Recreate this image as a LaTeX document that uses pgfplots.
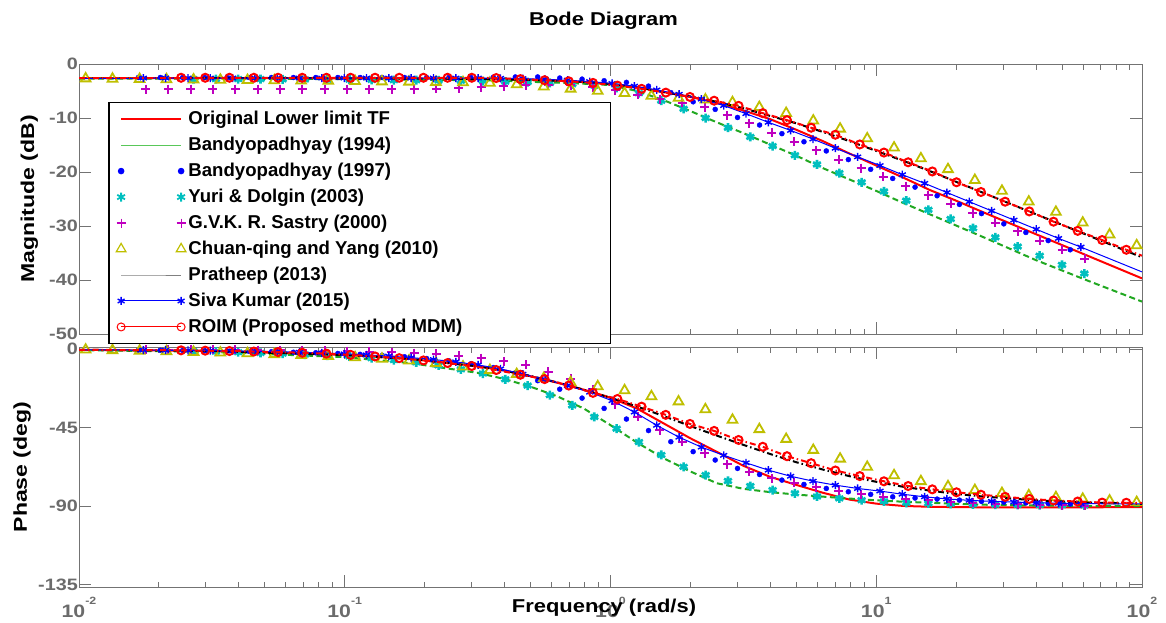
\documentclass[border=0pt]{standalone}
\usepackage{fontspec}
\setmainfont{Liberation Sans}
\newfontfamily\wideL[FakeStretch=1.24]{Liberation Sans}
\newfontfamily\wideT[FakeStretch=1.18]{Liberation Sans}
\newfontfamily\wideK[FakeStretch=1.2]{Liberation Sans}
\usepackage{pgfplots}
\usepackage{pgfplotstable}
\pgfplotsset{compat=1.18}

\definecolor{mgreen}{rgb}{0.13,0.66,0.13}
\definecolor{lgreen}{rgb}{0.35,0.78,0.35}
\definecolor{mcyan}{rgb}{0,0.75,0.75}
\definecolor{mmag}{rgb}{0.75,0,0.75}
\definecolor{myel}{rgb}{0.75,0.75,0}
\definecolor{axgray}{rgb}{0.45,0.45,0.45}
\definecolor{tickgray}{rgb}{0.42,0.42,0.42}
\newcommand{\lblfont}{\fontsize{18.6}{20}\selectfont\bfseries}

% lw = log10(frequency in rad/s), mag in dB, ph in deg
\pgfplotstableread{
lw mag ph
-2.0 -2.6 -0.3
-1.5 -2.6 -1.0
-1.0 -2.65 -3.2
-0.75 -2.7 -5.6
-0.5 -2.8 -9.7
-0.4 -2.85 -12.2
-0.3 -2.95 -15.5
-0.2 -3.1 -19.2
-0.1 -3.35 -23.2
0.0 -3.7 -27.8
0.1 -4.3 -34.0
0.2 -5.2 -42.5
0.3 -6.1 -51.0
0.4 -7.2 -58.8
0.5 -8.6 -66.8
0.6 -10.2 -73.1
0.7 -12.2 -77.8
0.8 -14.3 -82.3
0.9 -16.6 -86.2
1.0 -18.8 -88.5
1.1 -21.0 -89.8
1.2 -23.3 -90.3
1.3 -25.3 -90.5
1.4 -27.4 -90.6
1.6 -31.5 -90.6
1.8 -35.6 -90.6
2.0 -39.7 -90.5
}\tOrig

\pgfplotstableread{
lw mag ph
-2.0 -2.7 -0.5
-1.5 -2.7 -1.5
-1.0 -2.8 -4.5
-0.75 -2.9 -8.0
-0.5 -3.0 -13.5
-0.4 -3.1 -17.0
-0.3 -3.3 -21.5
-0.2 -3.45 -27.0
-0.1 -3.65 -34.0
0.0 -3.9 -43.5
0.1 -5.0 -53.5
0.2 -6.7 -62.5
0.3 -8.7 -70.0
0.4 -10.8 -76.8
0.5 -12.8 -80.0
0.6 -14.9 -81.9
0.7 -17.0 -83.3
0.8 -19.3 -84.5
0.9 -21.4 -85.6
1.0 -23.5 -86.6
1.1 -25.7 -87.4
1.2 -27.8 -88.0
1.3 -29.9 -88.6
1.4 -32.0 -89.1
1.6 -36.3 -89.6
1.8 -40.2 -89.9
2.0 -44.0 -90.0
}\tGreen

\pgfplotstableread{
lw mag ph
-2.0 -2.6 -0.3
-1.5 -2.6 -1.0
-1.0 -2.65 -3.3
-0.75 -2.7 -5.6
-0.5 -2.75 -9.8
-0.4 -2.85 -12.2
-0.3 -2.95 -15.3
-0.2 -3.1 -19.0
-0.1 -3.3 -23.2
0.0 -3.7 -27.8
0.1 -4.3 -32.8
0.2 -5.2 -38.3
0.3 -6.0 -44.0
0.4 -7.0 -49.5
0.5 -8.2 -54.8
0.6 -9.6 -60.0
0.7 -11.0 -64.8
0.8 -12.6 -69.0
0.9 -14.3 -72.8
1.0 -16.1 -76.0
1.1 -17.9 -78.8
1.2 -19.8 -81.0
1.3 -21.8 -82.9
1.4 -23.8 -84.4
1.6 -27.8 -86.6
1.8 -31.8 -87.9
2.0 -35.8 -88.6
}\tBlack

\pgfplotstableread{
lw mag ph
-1.616 -2.55 -0.6
-1.525 -2.55 -0.8
-1.434 -2.55 -1.0
-1.342 -2.55 -1.3
-1.251 -2.55 -1.6
-1.160 -2.55 -2.0
-1.069 -2.55 -2.5
-0.978 -2.55 -3.2
-0.886 -2.55 -4.1
-0.795 -2.55 -5.1
-0.704 -2.55 -6.4
-0.613 -2.55 -7.9
-0.522 -2.55 -9.6
-0.430 -2.6 -11.9
-0.339 -2.8 -14.6
-0.248 -3.0 -17.1
-0.157 -3.2 -20.8
-0.066 -3.5 -25.0
0.026 -4.0 -28.5
0.117 -4.6 -32.9
0.208 -5.3 -37.6
0.299 -6.1 -42.8
0.390 -6.8 -46.8
0.482 -7.75 -52.0
0.573 -9.1 -55.9
0.664 -10.4 -61.3
0.755 -11.8 -65.3
0.846 -13.1 -69.5
0.938 -14.9 -72.7
1.029 -16.4 -75.7
1.120 -18.2 -78.4
1.211 -19.9 -80.3
1.302 -21.9 -82.0
1.394 -23.7 -83.4
1.485 -25.5 -84.6
1.576 -27.3 -85.8
1.667 -29.2 -86.7
1.758 -30.9 -87.3
1.850 -32.6 -87.9
1.941 -34.4 -88.0
}\tRoim

\pgfplotstableread{
lw mag ph
-1.758 -2.6 -0.45
-1.674 -2.6 -0.55
-1.590 -2.6 -0.65
-1.506 -2.6 -0.8
-1.422 -2.6 -0.95
-1.338 -2.6 -1.15
-1.254 -2.6 -1.4
-1.170 -2.6 -1.7
-1.086 -2.6 -2.1
-1.002 -2.6 -2.6
-0.918 -2.6 -3.2
-0.834 -2.6 -3.9
-0.750 -2.6 -4.8
-0.666 -2.6 -5.9
-0.582 -2.6 -7.2
-0.498 -2.6 -9.0
-0.414 -2.65 -11.2
-0.330 -2.7 -14.3
-0.246 -2.85 -17.2
-0.162 -3.0 -20.8
-0.078 -3.25 -24.6
0.006 -3.6 -29.5
0.090 -4.1 -36.0
0.174 -4.8 -43.6
0.258 -5.6 -50.4
0.342 -6.5 -56.1
0.426 -7.7 -60.8
0.510 -9.2 -65.1
0.594 -10.8 -69.3
0.678 -12.3 -72.8
0.762 -13.9 -75.6
0.846 -15.6 -77.9
0.930 -17.2 -79.8
1.014 -18.8 -81.3
1.098 -20.5 -83.1
1.182 -22.1 -84.6
1.266 -23.8 -85.8
1.350 -25.5 -86.6
1.434 -27.2 -87.2
1.518 -28.9 -87.6
1.602 -30.6 -88.0
1.686 -32.3 -88.3
1.770 -33.9 -88.5
}\tSiva

\pgfplotstableread{
lw mag ph
-1.777 -2.5 -0.5
-1.694 -2.5 -0.6
-1.610 -2.5 -0.7
-1.527 -2.5 -0.85
-1.443 -2.5 -1.0
-1.360 -2.5 -1.2
-1.276 -2.5 -1.4
-1.193 -2.5 -1.7
-1.109 -2.5 -2.0
-1.026 -2.5 -2.4
-0.942 -2.5 -2.9
-0.859 -2.5 -3.5
-0.775 -2.5 -4.3
-0.692 -2.5 -5.3
-0.608 -2.5 -6.6
-0.525 -2.5 -8.3
-0.441 -2.45 -10.5
-0.358 -2.4 -13.5
-0.274 -2.4 -18.0
-0.191 -2.6 -22.9
-0.107 -2.8 -28.0
-0.024 -3.1 -33.9
0.060 -3.4 -40.0
0.143 -4.1 -46.6
0.227 -5.3 -53.0
0.311 -7.0 -58.7
0.394 -8.4 -63.5
0.478 -9.9 -68.3
0.561 -11.3 -71.8
0.645 -12.9 -75.0
0.728 -14.4 -77.5
0.812 -16.1 -79.8
0.895 -17.7 -81.7
0.979 -19.5 -83.2
1.062 -21.2 -84.6
1.146 -22.8 -85.3
1.229 -24.4 -85.9
1.313 -26.0 -86.5
1.396 -27.7 -87.2
1.480 -29.6 -87.7
1.563 -31.2 -88.1
1.647 -32.7 -88.4
1.730 -34.4 -88.7
}\tDots

\pgfplotstableread{
lw mag ph
-1.569 -2.8 -1.2
-1.485 -2.8 -1.4
-1.401 -2.8 -1.7
-1.317 -2.8 -2.1
-1.234 -2.85 -2.5
-1.150 -2.85 -3.0
-1.066 -2.9 -3.6
-0.982 -2.9 -4.1
-0.899 -2.95 -5.1
-0.815 -3.0 -6.2
-0.731 -3.0 -7.5
-0.647 -3.05 -9.2
-0.563 -3.1 -11.5
-0.480 -3.15 -13.9
-0.396 -3.25 -17.2
-0.312 -3.35 -20.8
-0.228 -3.5 -26.3
-0.144 -3.75 -32.2
-0.061 -4.0 -38.8
0.023 -4.4 -45.5
0.107 -5.4 -53.2
0.191 -6.8 -60.6
0.275 -8.3 -67.4
0.358 -10.0 -72.1
0.442 -11.8 -75.5
0.526 -13.5 -78.4
0.610 -15.2 -80.7
0.694 -16.9 -82.6
0.777 -18.6 -84.4
0.861 -20.2 -85.5
0.945 -21.9 -86.5
1.029 -23.6 -87.2
1.113 -25.3 -88.0
1.196 -27.0 -88.4
1.280 -28.7 -88.6
1.364 -30.4 -88.9
1.448 -32.1 -89.1
1.532 -33.8 -89.2
1.615 -35.5 -89.3
1.699 -37.2 -89.4
1.783 -38.8 -89.5
}\tYuri

\pgfplotstableread{
lw mag ph
-1.748 -4.65 -0.2
-1.664 -4.65 -0.25
-1.580 -4.65 -0.3
-1.496 -4.65 -0.35
-1.412 -4.65 -0.4
-1.328 -4.65 -0.5
-1.243 -4.65 -0.6
-1.159 -4.65 -0.7
-1.075 -4.65 -0.8
-0.991 -4.65 -1.0
-0.907 -4.65 -1.3
-0.823 -4.65 -1.7
-0.739 -4.65 -2.2
-0.655 -4.6 -2.6
-0.571 -4.5 -3.7
-0.487 -4.3 -5.1
-0.402 -4.1 -7.0
-0.318 -3.9 -8.9
-0.234 -3.8 -12.8
-0.150 -3.9 -16.8
-0.066 -4.3 -23.0
0.018 -4.9 -31.5
0.102 -5.7 -38.8
0.186 -6.5 -46.3
0.270 -7.2 -53.1
0.355 -8.0 -59.7
0.439 -9.5 -66.0
0.523 -11.0 -70.2
0.607 -12.7 -74.0
0.691 -14.4 -76.6
0.775 -16.0 -79.2
0.859 -17.7 -81.1
0.943 -19.3 -83.2
1.027 -20.9 -84.6
1.111 -22.6 -85.7
1.195 -24.3 -86.5
1.280 -25.9 -87.5
1.364 -27.6 -88.0
1.448 -29.4 -88.5
1.532 -31.0 -88.9
1.616 -32.7 -89.2
1.700 -34.4 -89.4
1.784 -36.1 -89.6
}\tSastry

\pgfplotstableread{
lw mag ph
-1.975 -2.7 -0.3
-1.874 -2.75 -0.6
-1.772 -2.8 -0.9
-1.671 -2.85 -1.2
-1.569 -2.9 -1.6
-1.468 -2.95 -2.0
-1.366 -3.0 -2.4
-1.265 -3.05 -2.9
-1.164 -3.1 -3.4
-1.062 -3.15 -4.0
-0.961 -3.2 -4.7
-0.860 -3.25 -5.5
-0.758 -3.3 -6.5
-0.657 -3.35 -8.0
-0.555 -3.4 -10.0
-0.454 -3.5 -12.0
-0.353 -3.8 -14.3
-0.251 -4.2 -16.6
-0.150 -4.6 -19.0
-0.048 -5.0 -21.3
0.053 -5.4 -23.6
0.154 -5.9 -27.0
0.256 -6.3 -30.0
0.357 -6.6 -34.5
0.459 -7.1 -40.5
0.560 -8.0 -45.9
0.661 -9.1 -51.5
0.763 -10.5 -57.8
0.864 -12.0 -62.8
0.966 -13.8 -67.5
1.067 -15.5 -72.3
1.168 -17.5 -75.7
1.270 -19.5 -78.6
1.371 -21.5 -80.8
1.473 -23.5 -82.5
1.574 -25.5 -83.8
1.676 -27.4 -84.9
1.777 -29.4 -85.8
1.878 -31.6 -86.8
1.980 -33.6 -87.7
}\tChuan

\pgfplotsset{
  endmarks/.style={legend image code/.code={\draw[mark repeat=2,mark phase=1,##1] plot coordinates {(0pt,0pt) (30pt,0pt) (60pt,0pt)};}},
  bode/.style={
    scale only axis, width=1063pt,
    xmin=-2, xmax=2,
    axis line style={draw=axgray, line width=1pt},
    tick style={draw=axgray, line width=1pt},
    major tick length=12pt, minor tick length=5.5pt,
    tick align=inside,
    xtick={-2,-1,0,1,2},
    minor xtick={-1.69897,-1.52288,-1.39794,-1.30103,-1.22185,-1.15490,-1.09691,-1.04576,-0.69897,-0.52288,-0.39794,-0.30103,-0.22185,-0.15490,-0.09691,-0.04576,0.30103,0.47712,0.60206,0.69897,0.77815,0.84510,0.90309,0.95424,1.30103,1.47712,1.60206,1.69897,1.77815,1.84510,1.90309,1.95424},
    yticklabel style={font=\wideK\fontsize{16.5}{17}\selectfont\bfseries, text=tickgray, anchor=east, inner sep=0pt, xshift=-1pt},
    clip mode=individual,
    ylabel style={font=\wideL\lblfont, anchor=center},
  },
  dashdot/.style={dash pattern=on 6pt off 3pt on 1.5pt off 3pt},
  mdash/.style={dash pattern=on 6pt off 3.5pt},
  sDots/.style={blue, only marks, mark=*, mark size=2.5pt},
  sYuri/.style={mcyan, only marks, mark=asterisk, mark size=4.5pt, line width=2.6pt},
  sSastry/.style={mmag, only marks, mark=+, mark size=4.5pt, line width=2pt},
  sChuan/.style={myel, only marks, mark=triangle, mark size=5.6pt, line width=1.8pt},
  sSiva/.style={blue, line width=1pt, mark=asterisk, mark size=4pt, mark options={line width=1.4pt}},
  sRoim/.style={red, line width=2pt, dashdot, mark=o, mark size=4pt, mark options={solid}},
}

\begin{document}
\begin{tikzpicture}
\useasboundingbox (0pt,0pt) rectangle (1166pt,-623pt);

% ---------- Phase ----------
\begin{axis}[bode, at={(79pt,-587pt)}, anchor=south west, height=240pt,
  ymin=-136.3, ymax=1.3, ytick={-135,-90,-45,0}, yticklabels={-135,-90,-45,0},
  xticklabels={{10\raisebox{13pt}{\fontsize{10.5}{10.5}\selectfont -2}},{10\raisebox{13pt}{\fontsize{10.5}{10.5}\selectfont -1}},{10\raisebox{13pt}{\fontsize{10.5}{10.5}\selectfont 0}},{10\raisebox{13pt}{\fontsize{10.5}{10.5}\selectfont 1}},{10\raisebox{13pt}{\fontsize{10.5}{10.5}\selectfont 2}}},
  xticklabel style={font=\wideT\fontsize{18}{18}\selectfont\bfseries, text=tickgray, anchor=north, inner sep=0pt, yshift=-10pt},
  xlabel={Frequency (rad/s)}, xlabel style={at={(rel axis cs:0.4939,-0.0875)}, anchor=center, font=\wideT\lblfont},
  ylabel={Phase (deg)}, ylabel style={at={(rel axis cs:-0.0536,0.5)}},
]
\addplot[red, line width=2pt, forget plot] table[x=lw,y=ph] {\tOrig};
\addplot[mgreen, line width=2pt, mdash, forget plot] table[x=lw,y=ph] {\tGreen};
\addplot[sDots, forget plot] table[x=lw,y=ph] {\tDots};
\addplot[sYuri, forget plot] table[x=lw,y=ph] {\tYuri};
\addplot[sSastry, forget plot] table[x=lw,y=ph] {\tSastry};
\addplot[sChuan, forget plot] table[x=lw,y=ph] {\tChuan};
\addplot[black, line width=2pt, dashdot, forget plot] table[x=lw,y=ph] {\tBlack};
\addplot[blue, line width=1pt, forget plot] coordinates {(-2,-0.3) (-1.758,-0.45)};
\addplot[sSiva, forget plot] table[x=lw,y=ph] {\tSiva};
\addplot[blue, line width=1pt, forget plot] coordinates {(1.770,-88.5) (2,-88.7)};
\addplot[red, line width=2pt, dashdot, forget plot] coordinates {(-2,-0.3) (-1.616,-0.6)};
\addplot[sRoim, forget plot] table[x=lw,y=ph] {\tRoim};
\addplot[red, line width=2pt, dashdot, forget plot] coordinates {(1.941,-88.0) (2,-88.1)};
\end{axis}

% ---------- Magnitude ----------
\begin{axis}[bode, at={(79pt,-334pt)}, anchor=south west, height=270pt,
  ymin=-50, ymax=0, ytick={-50,-40,-30,-20,-10,0}, yticklabels={-50,-40,-30,-20,-10,0},
  xticklabels={},
  ylabel={Magnitude (dB)}, ylabel style={at={(rel axis cs:-0.0466,0.5)}},
  title={Bode Diagram}, title style={at={(rel axis cs:0.4935,1)}, anchor=center, yshift=37pt, font=\wideT\lblfont},
  legend cell align=left,
  legend style={at={(rel axis cs:0.0273,0.8593)}, anchor=north west, draw=black, line width=1.5pt, fill=white,
    font=\lblfont, inner xsep=7.5pt, inner ysep=6.6pt, row sep=6.4pt,
    nodes={inner xsep=2.5pt, inner ysep=2pt, text depth=0.21em}},
]
\addplot[red, line width=2pt, forget plot] table[x=lw,y=mag] {\tOrig};
\addplot[mgreen, line width=2pt, mdash, forget plot] table[x=lw,y=mag] {\tGreen};
\addplot[sDots, forget plot] table[x=lw,y=mag] {\tDots};
\addplot[sYuri, forget plot] table[x=lw,y=mag] {\tYuri};
\addplot[sSastry, forget plot] table[x=lw,y=mag] {\tSastry};
\addplot[sChuan, forget plot] table[x=lw,y=mag] {\tChuan};
\addplot[black, line width=2pt, dashdot, forget plot] table[x=lw,y=mag] {\tBlack};
\addplot[blue, line width=1pt, forget plot] coordinates {(-2,-2.6) (-1.758,-2.6)};
\addplot[sSiva, forget plot] table[x=lw,y=mag] {\tSiva};
\addplot[blue, line width=1pt, forget plot] coordinates {(1.770,-33.9) (2,-38.5)};
\addplot[red, line width=2pt, dashdot, forget plot] coordinates {(-2,-2.55) (-1.616,-2.55)};
\addplot[sRoim, forget plot] table[x=lw,y=mag] {\tRoim};
\addplot[red, line width=2pt, dashdot, forget plot] coordinates {(1.941,-34.4) (2,-35.5)};

\addlegendimage{red, line width=2pt, endmarks}
\addlegendentry{\makebox[412pt][l]{Original Lower limit TF}}
\addlegendimage{lgreen, line width=1pt, endmarks}
\addlegendentry{Bandyopadhyay (1994)}
\addlegendimage{sDots, endmarks}
\addlegendentry{Bandyopadhyay (1997)}
\addlegendimage{sYuri, line width=1.8pt, endmarks}
\addlegendentry{Yuri \& Dolgin (2003)}
\addlegendimage{sSastry, line width=1.2pt, endmarks}
\addlegendentry{G.V.K. R. Sastry (2000)}
\addlegendimage{sChuan, line width=1.2pt, endmarks}
\addlegendentry{Chuan-qing and Yang (2010)}
\addlegendimage{gray, line width=1pt, endmarks}
\addlegendentry{Pratheep (2013)}
\addlegendimage{sSiva, endmarks}
\addlegendentry{Siva Kumar (2015)}
\addlegendimage{red, line width=1pt, mark=o, mark size=4pt, endmarks}
\addlegendentry{ROIM (Proposed method MDM)}
\end{axis}
\end{tikzpicture}
\end{document}
